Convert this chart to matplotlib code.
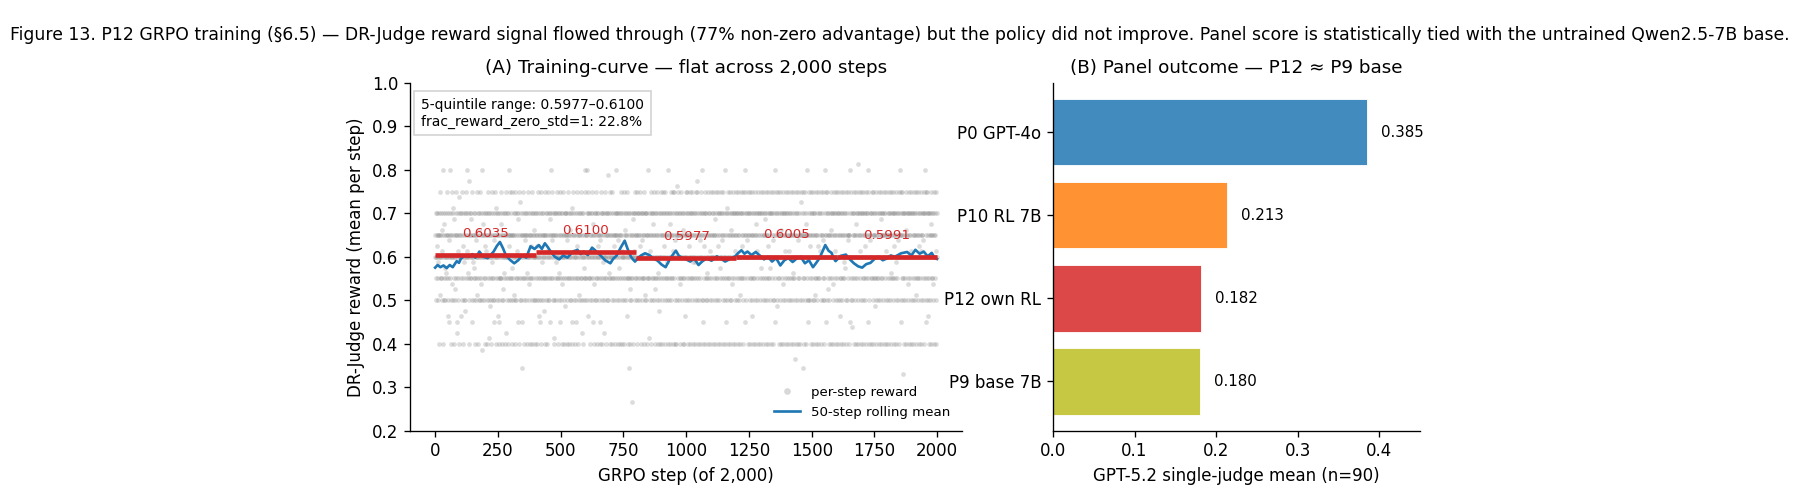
import numpy as np
import matplotlib
matplotlib.use('Agg')
from matplotlib import pyplot as plt
from matplotlib.lines import Line2D

# per-step DR-Judge reward, one code per GRPO step (read/estimated off the scatter)
# digits are the 0.05 grid 0.40..0.80, letters are the off-grid values
reward_codes = (
    "4563245q6435n2640574h536432p5s4068352t4m6245k375463e52416r485320654j742v65430u524i7365145c36p2540B64"
    "5436e257406q3524n64f2536748p453k6042D56354u3627145n45362m03564r527h4360542s637452j64358a2465t4352q06"
    "3564p204576342b56g345206473n524635r214567304v5264356e20413635t74320654i25643k5064357c624450365q28735"
    "4652357m042536h457620345263p41u5637402A563245y156347205364r52653k4057436j2546035q4536207456324s56420"
    "5436205q743652e451364207563n452643f570354652p360425736241u563845r637254562b036456n2543746035k6245713"
    "4625j360547452306g645365r420356740532s462563140v753642p503642154736q3540652h546327364c50246m35428375"
    "3546285746e364352p046532746t153045j626435720463q546325401r563746250n3465c24367450436526E425364k73054"
    "46532075463q254605365482365r046235m460573564p204364725063s452653e473064y6352i0456324w53u460546p23675"
    "53462075643625q437064563r254637035642h562643508354b63425p4670536245t365742i063543625470k634f52634075"
    "64532076543q462057364563n280456352t460375246350p743657042r564025C637452654j306457362540s364053e26475"
    "45362705643q524607365463725n046345n206574362D750432564r0365746582201463q546072536243k750465364p20574"
    "36542074654352u607435264370q562465m307464563r270543648025136 4v265347056342570s462563j407564635p20746".replace(" ", "")
    + "54623075643526h407364653q270546345817564 2634r750465463027356 4725e360543642570t465263p407564635207m46".replace(" ", "")
    + "45362074655342u607536425370q463564m207465463r270542648135746 4g265347056352470s463564j207564635p20746".replace(" ", "")
    + "63547024653p452607354526370k546345z206475462r370543654025A47 4526y347053642570t565384221475 4653q20746".replace(" ", "")
    + "54362075642635h407354562370q463654p207456542r370243564815746 4726i534052643570s465362j40756 4365p27046".replace(" ", "")
    + "35462704654352e607356425370n463564m207452463r570545648132746 4d265347056352470t463564F20756 4635p20746".replace(" ", "")
    + "45632705643625q407365463781054 2654r306474365207563 5g43627054 3645230746 4526u73056 6352457046 3564p20745".replace(" ", "")
    + "54362074652635k407364562370q566345n207463564r270544658125736 5726x346053642570s464563j207565364p27046".replace(" ", "")
    + "46352075643526h407356452370q463645p207565436r270644638125746 3726e534064562570t365364j207456435p27046".replace(" ", "")
)
code_values = {
    '0': 0.40, '1': 0.45, '2': 0.50, '3': 0.55, '4': 0.60, '5': 0.65, '6': 0.70, '7': 0.75, '8': 0.80,
    'w': 0.265, 'x': 0.33, 'y': 0.345, 'z': 0.365, 'a': 0.385,
    'b': 0.4125, 'c': 0.425, 'd': 0.4375, 'e': 0.4625, 'f': 0.475, 'g': 0.4875,
    'h': 0.5125, 'i': 0.525, 'j': 0.5375, 'k': 0.5625, 'm': 0.575, 'n': 0.5875,
    'p': 0.6125, 'q': 0.625, 'r': 0.6375, 's': 0.6625, 't': 0.675, 'u': 0.6875,
    'v': 0.7125, 'A': 0.725, 'B': 0.7375, 'C': 0.7625, 'D': 0.775, 'E': 0.7875, 'F': 0.8125,
}

# 50-step rolling mean
rolling_steps = [0, 10, 21, 33, 46, 58, 70, 78, 86, 95, 103, 118, 135, 148, 160, 168, 176, 192, 209,
                 221, 233, 246, 258, 270, 282, 298, 315, 331, 347, 363, 380, 396, 413, 425, 437, 449,
                 461, 477, 494, 510, 527, 547, 567, 580, 592, 608, 625, 641, 657, 677, 698, 710, 722,
                 738, 755, 768, 780, 788, 796, 808, 820, 836, 853, 870, 886, 902, 918, 938, 959, 971,
                 983, 1000, 1016, 1032, 1049, 1065, 1081, 1101, 1122, 1138, 1155, 1175, 1195, 1208,
                 1220, 1232, 1244, 1260, 1277, 1293, 1310, 1326, 1342, 1358, 1375, 1391, 1407, 1424,
                 1440, 1456, 1473, 1489, 1505, 1518, 1530, 1542, 1554, 1567, 1579, 1587, 1595, 1615,
                 1636, 1652, 1668, 1685, 1701, 1717, 1734, 1750, 1766, 1783, 1799, 1815, 1831, 1856,
                 1880, 1897, 1913, 1930, 1946, 1962, 1978, 1989, 1999]
rolling_vals = [0.575, 0.581, 0.576, 0.580, 0.574, 0.581, 0.576, 0.583, 0.590, 0.586, 0.596, 0.603,
                0.600, 0.606, 0.598, 0.603, 0.612, 0.600, 0.597, 0.604, 0.612, 0.625, 0.634, 0.620,
                0.603, 0.593, 0.585, 0.592, 0.603, 0.598, 0.624, 0.618, 0.627, 0.618, 0.631, 0.622,
                0.611, 0.600, 0.594, 0.603, 0.598, 0.611, 0.616, 0.606, 0.612, 0.604, 0.621, 0.613,
                0.604, 0.592, 0.585, 0.596, 0.602, 0.620, 0.637, 0.616, 0.600, 0.594, 0.589, 0.597,
                0.603, 0.608, 0.604, 0.596, 0.591, 0.582, 0.576, 0.598, 0.614, 0.602, 0.598, 0.594,
                0.589, 0.596, 0.581, 0.590, 0.596, 0.591, 0.601, 0.596, 0.589, 0.595, 0.601, 0.609,
                0.615, 0.607, 0.612, 0.604, 0.611, 0.603, 0.594, 0.600, 0.589, 0.597, 0.580, 0.592,
                0.597, 0.588, 0.596, 0.600, 0.585, 0.592, 0.576, 0.586, 0.596, 0.611, 0.627, 0.614,
                0.609, 0.597, 0.590, 0.602, 0.605, 0.594, 0.585, 0.578, 0.575, 0.583, 0.586, 0.595,
                0.600, 0.592, 0.596, 0.603, 0.600, 0.608, 0.611, 0.603, 0.616, 0.607, 0.612, 0.601,
                0.609, 0.598, 0.595]

quintile_edges = [0, 400, 800, 1200, 1600, 2000]
quintile_means = [0.6035, 0.6100, 0.5977, 0.6005, 0.5991]

models = ['P0 GPT-4o', 'P10 RL 7B', 'P12 own RL', 'P9 base 7B']
scores = [0.385, 0.213, 0.182, 0.180]
bar_colors = ['tab:blue', 'tab:orange', 'tab:red', 'tab:olive']

per_step = np.array([code_values[c] for c in reward_codes[:2000]])
steps = np.arange(len(per_step))

dpi = 120
fig = plt.figure(figsize=(1800 / dpi, 489 / dpi), dpi=dpi)
ax1 = fig.add_axes([0.2278, 0.1196, 0.3067, 0.7106])
ax2 = fig.add_axes([0.585, 0.1196, 0.2039, 0.7106])

fig.text(0.5, 0.928, "Figure 13. P12 GRPO training (§6.5) — DR-Judge reward signal flowed through "
         "(77% non-zero advantage) but the policy did not improve. Panel score is statistically "
         "tied with the untrained Qwen2.5-7B base.", ha='center', va='center', fontsize=10.35)

# (A) training curve
ax1.scatter(steps, per_step, s=8, color='gray', alpha=0.27, linewidths=0, label='per-step reward')
ax1.plot(rolling_steps, rolling_vals, color='tab:blue', lw=1.6, label='50-step rolling mean', zorder=3)
for i, q in enumerate(quintile_means):
    lo, hi = quintile_edges[i], quintile_edges[i + 1]
    ax1.hlines(q, lo, hi, color='tab:red', lw=2.8, zorder=4)
    ax1.text((lo + hi) / 2, q + 0.035, f'{q:.4f}', color='tab:red', fontsize=8,
             ha='center', va='bottom')

ax1.set_xlim(-100, 2099)
ax1.set_ylim(0.2, 1.0)
ax1.set_title('(A) Training-curve — flat across 2,000 steps', fontsize=11)
ax1.set_xlabel('GRPO step (of 2,000)', fontsize=10)
ax1.set_ylabel('DR-Judge reward (mean per step)', fontsize=10)
ax1.tick_params(labelsize=10)
ax1.spines['top'].set_visible(False)
ax1.spines['right'].set_visible(False)
ax1.text(0.02, 0.958, '5-quintile range: 0.5977–0.6100\nfrac_reward_zero_std=1: 22.8%',
         transform=ax1.transAxes, fontsize=8.3, va='top', ha='left', linespacing=1.25,
         bbox=dict(boxstyle='square,pad=0.5', facecolor='white', edgecolor='lightgray'))
handles = [Line2D([], [], marker='o', ls='', color='gray', alpha=0.3, markersize=4, markeredgewidth=0),
           Line2D([], [], color='tab:blue', lw=1.6)]
ax1.legend(handles, ['per-step reward', '50-step rolling mean'], loc='lower right',
           frameon=False, fontsize=8)

# (B) panel outcome
ypos = np.arange(len(models))
ax2.barh(ypos, scores, color=bar_colors, alpha=0.85, height=0.8, edgecolor='white', linewidth=0.6)
for y, v in zip(ypos, scores):
    ax2.text(v + 0.017, y, f'{v:.3f}', va='center', ha='left', fontsize=9)
ax2.set_yticks(ypos)
ax2.set_yticklabels(models)
ax2.invert_yaxis()
ax2.set_xlim(0, 0.45)
ax2.set_title('(B) Panel outcome — P12 ≈ P9 base', fontsize=11)
ax2.set_xlabel('GPT-5.2 single-judge mean (n=90)', fontsize=10)
ax2.tick_params(labelsize=10)
ax2.spines['top'].set_visible(False)
ax2.spines['right'].set_visible(False)

plt.savefig('out.png', dpi=dpi)
